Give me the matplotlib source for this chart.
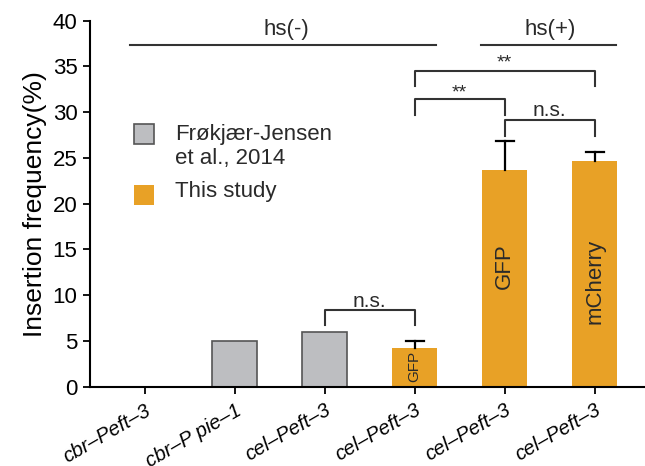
import matplotlib.pyplot as plt
from matplotlib.patches import Rectangle
import numpy as np

plt.rcParams['font.family'] = ['Liberation Sans', 'DejaVu Sans']

labels = ['cbr–Peft–3', 'cbr–P pie–1', 'cel–Peft–3', 'cel–Peft–3', 'cel–Peft–3', 'cel–Peft–3']
values = [0, 5.0, 6.0, 4.2, 23.7, 24.7]
errors = [0, 0, 0, 0.8, 3.2, 0.9]
source = ['ref', 'ref', 'ref', 'this', 'this', 'this']
inbar = ['', '', '', 'GFP', 'GFP', 'mCherry']
legend_labels = ['Frøkjær-Jensen\net al., 2014', 'This study']

gray = '#bdbec1'
orange = '#e8a126'
dark = '#2a2a2a'

fig = plt.figure(figsize=(6.45, 4.66), dpi=100)
ax = fig.add_axes([0.1395, 0.170, 0.8605, 0.7856])

x = np.arange(len(values))
for i in x:
    if source[i] == 'ref':
        if values[i] > 0:
            ax.bar(i, values[i], 0.5, color=gray, edgecolor='#555555', linewidth=1.2, zorder=2)
    else:
        ax.bar(i, values[i], 0.5, color=orange, edgecolor='none', zorder=2)
        # upward-only error bar with cap
        top = values[i] + errors[i]
        ax.plot([i, i], [values[i], top], color='black', lw=1.6, zorder=3)
        ax.plot([i - 0.1, i + 0.1], [top, top], color='black', lw=1.6, zorder=3)

# text inside bars
ax.text(3, 2.2, inbar[3], rotation=90, ha='center', va='center', fontsize=11, color=dark, zorder=4)
ax.text(4, 13.2, inbar[4], rotation=90, ha='center', va='center', fontsize=16, color=dark, zorder=4)
ax.text(5, 11.5, inbar[5], rotation=90, ha='center', va='center', fontsize=16, color=dark, zorder=4)

def bracket(x1, x2, y, h, txt, ty, fs):
    ax.plot([x1, x1, x2, x2], [y - h, y, y, y - h], color='#333333', lw=1.5)
    ax.text((x1 + x2) / 2, ty, txt, ha='center', va='center', fontsize=fs, color=dark)

bracket(2, 3, 8.35, 1.65, 'n.s.', 9.35, 15)
bracket(4, 5, 29.1, 1.65, 'n.s.', 30.2, 15)
bracket(3, 4, 31.4, 1.65, '**', 32.1, 14)
bracket(3, 5, 34.5, 1.65, '**', 35.4, 14)

# hs groups
ax.plot([-0.17, 3.24], [37.3, 37.3], color='#333333', lw=1.5)
ax.plot([3.74, 5.24], [37.3, 37.3], color='#333333', lw=1.5)
ax.text(1.57, 39.0, 'hs(-)', ha='center', va='center', fontsize=16, color=dark)
ax.text(4.51, 39.0, 'hs(+)', ha='center', va='center', fontsize=16, color=dark)

# legend drawn by hand (handle aligned with first text line)
fig.add_artist(Rectangle((0.2078, 0.691), 0.031, 0.0429, facecolor=gray,
                         edgecolor='#555555', linewidth=1.2, transform=fig.transFigure))
fig.add_artist(Rectangle((0.2078, 0.560), 0.031, 0.0429, facecolor=orange,
                         edgecolor='none', transform=fig.transFigure))
fig.text(0.271, 0.6856, legend_labels[0], ha='left', va='center', fontsize=16,
         linespacing=1.15, color=dark)
fig.text(0.271, 0.588, legend_labels[1], ha='left', va='center', fontsize=16, color=dark)

ax.set_xlim(-0.61, 5.56)
ax.set_ylim(0, 40)
ax.set_yticks(np.arange(0, 41, 5))
ax.set_xticks(x)
ax.set_xticklabels(labels, rotation=30, ha='right', rotation_mode='anchor',
                   fontstyle='italic', fontsize=14.5)
ax.tick_params(axis='y', labelsize=16, length=5, width=1.3, pad=4)
ax.tick_params(axis='x', length=5, width=1.3, pad=5)
ax.set_ylabel('Insertion frequency(%)', fontsize=19, labelpad=4)
for s in ['top', 'right']:
    ax.spines[s].set_visible(False)
for s in ['left', 'bottom']:
    ax.spines[s].set_linewidth(1.5)

plt.savefig('out.png', dpi=100)
